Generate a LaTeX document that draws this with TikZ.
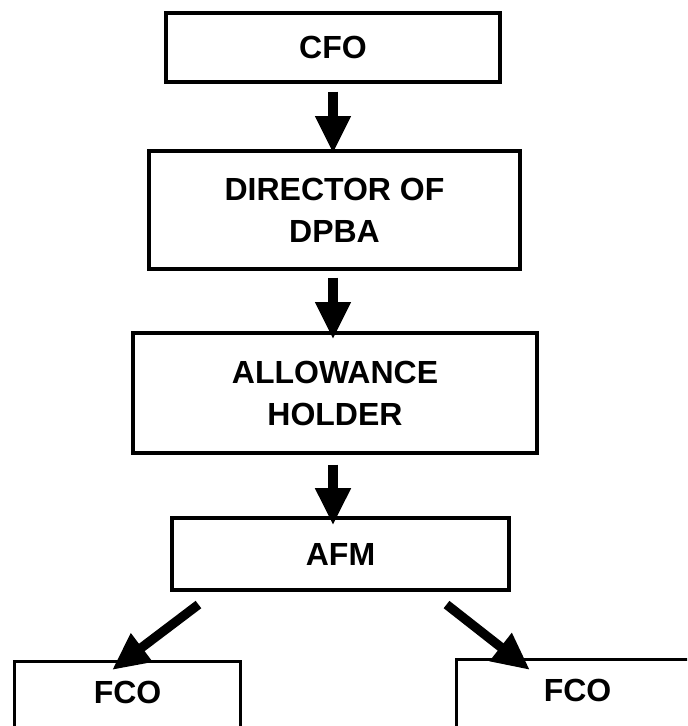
\documentclass[tikz,border=0pt]{standalone}
\usepackage{fontspec}
\setmainfont{Liberation Sans}
\usetikzlibrary{arrows.meta,calc}
\tikzset{font=\bfseries\fontsize{24pt}{31.5pt}\selectfont}

\begin{document}
\begin{tikzpicture}[
            x=0.75pt, y=-0.75pt,
            chartbox/.style={draw,line width=2.5pt,inner sep=0pt,align=center},
            fcobox/.style={draw,line width=2.3pt,inner sep=0pt,anchor=north west,text height=31.5pt,text depth=60pt},
            flow/.style={draw,line width=7pt,-{Triangle[length=28pt,width=25pt]}}
            ]
            \useasboundingbox (0,0) rectangle (687,726);
            \clip (0,0) rectangle (687,726);
            \node[chartbox,minimum width=250.5pt,minimum height=51.75pt] (cfo) at (333,47.5) {CFO};
            \node[chartbox,minimum width=278.25pt,minimum height=88.5pt] (dpba) at (334.5,210) {DIRECTOR OF\\DPBA};
            \node[chartbox,minimum width=303pt,minimum height=90pt] (ah) at (335,393) {ALLOWANCE\\HOLDER};
            \node[chartbox,line width=2.3pt,minimum width=252.75pt,minimum height=54pt] (afm) at (340.5,554) {AFM};
            \node[fcobox,minimum width=169.5pt] (fcoa) at (13,660) {FCO};
            \node[fcobox,minimum width=181.5pt] (fcob) at (455,658) {FCO};
            \draw[flow] ($(cfo.south)+(0,8)$) -- ($(cfo.south |- dpba.north)+(0,4)$);
            \draw[flow] ($(dpba.south -| cfo.south)+(0,7)$) -- ($(ah.north -| cfo.south)+(0,8)$);
            \draw[flow] ($(ah.south -| cfo.south)+(0,10)$) -- ($(afm.north -| cfo.south)+(0,9)$);
            \draw[flow] ($(afm.south west)+(28,13)$) -- ($(fcoa.north west)+(99,10)$);
            \draw[flow] ($(afm.south east)+(-64,13)$) -- ($(fcob.north west)+(75,12)$);
        \end{tikzpicture}
\end{document}
